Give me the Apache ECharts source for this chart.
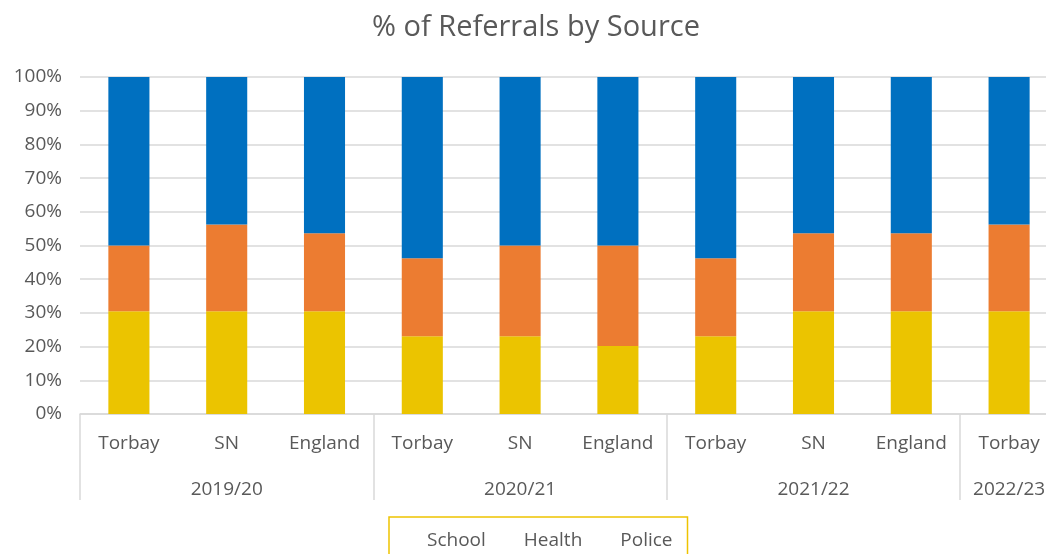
<!DOCTYPE html>
<html>
<head>
<meta charset="utf-8">
<script src="https://cdn.jsdelivr.net/npm/echarts@6/dist/echarts.min.js"></script>
<style>
  html, body { margin: 0; padding: 0; background: #fff; overflow: hidden; }
  /* the reference plot runs a little past the right edge of the picture */
  #chart { width: 1058px; height: 554px; }
</style>
</head>
<body>
<div id="chart"></div>
<script>
// data
const regions = ['Torbay', 'SN', 'England', 'Torbay', 'SN', 'England', 'Torbay', 'SN', 'England', 'Torbay'];
const years = ['2019/20', '2020/21', '2021/22', '2022/23'];
const yearSizes = [3, 3, 3, 1];
const school = [30.5, 30.5, 30.5, 23.1, 23.1, 20.2, 23.1, 30.5, 30.5, 30.5];
const health = [19.5, 25.7, 23.1, 23.1, 26.9, 29.8, 23.1, 23.1, 23.1, 25.7];
const police = [50, 43.8, 46.4, 53.8, 50, 50, 53.8, 46.4, 46.4, 43.8];
const yTicks = [0, 100, 10];

// year labels go under the middle of each group, group starts get a divider
let yearLabels = [];
let groupStarts = [];
let pos = 0;
years.forEach((y, i) => {
  groupStarts.push(pos);
  for (let k = 0; k < yearSizes[i]; k++) {
    yearLabels.push(k === Math.floor((yearSizes[i] - 1) / 2) ? y : '');
  }
  pos += yearSizes[i];
});

const textColor = '#595959';
const font = 'Open Sans';

let myChart = echarts.init(document.getElementById('chart'));
let option = {
  animation: false,
  title: {
    text: '% of Referrals by Source',
    left: 367,
    top: 8,
    textStyle: { fontFamily: font, fontSize: 29, fontWeight: 'normal', color: textColor }
  },
  legend: {
    data: ['School', 'Health', 'Police'],
    left: 389,
    top: 517,
    borderColor: '#eec300',
    borderWidth: 1.5,
    padding: [14, 15, 40, 5],
    itemWidth: 28,
    itemHeight: 10,
    itemGap: 5,
    itemStyle: { opacity: 0 },
    textStyle: { fontFamily: font, fontSize: 19, color: textColor }
  },
  grid: { left: 80, right: 0, top: 77, bottom: 140 },
  xAxis: [
    {
      type: 'category',
      data: regions,
      axisLine: { lineStyle: { color: '#d9d9d9', width: 1.5 } },
      axisTick: {
        show: true,
        length: 86,
        interval: (index) => groupStarts.includes(index),
        lineStyle: { color: '#d9d9d9', width: 1.5 }
      },
      axisLabel: { interval: 0, margin: 20, fontFamily: font, fontSize: 19, color: textColor }
    },
    {
      type: 'category',
      data: yearLabels,
      position: 'bottom',
      axisLine: { show: false },
      axisTick: { show: false },
      axisLabel: { interval: 0, margin: 66, fontFamily: font, fontSize: 19, color: textColor }
    }
  ],
  yAxis: {
    type: 'value',
    min: yTicks[0],
    max: yTicks[1],
    interval: yTicks[2],
    axisLine: { show: false },
    axisTick: { show: false },
    splitLine: { lineStyle: { color: '#d9d9d9', width: 1.5 } },
    axisLabel: { formatter: '{value}%', margin: 18, fontFamily: font, fontSize: 19, color: textColor }
  },
  series: [
    { name: 'School', type: 'bar', stack: 'all', barWidth: '42%', data: school, itemStyle: { color: '#ebc400' } },
    { name: 'Health', type: 'bar', stack: 'all', barWidth: '42%', data: health, itemStyle: { color: '#ec7c31' } },
    { name: 'Police', type: 'bar', stack: 'all', barWidth: '42%', data: police, itemStyle: { color: '#0070c0' } }
  ]
};
myChart.setOption(option);
</script>
</body>
</html>
